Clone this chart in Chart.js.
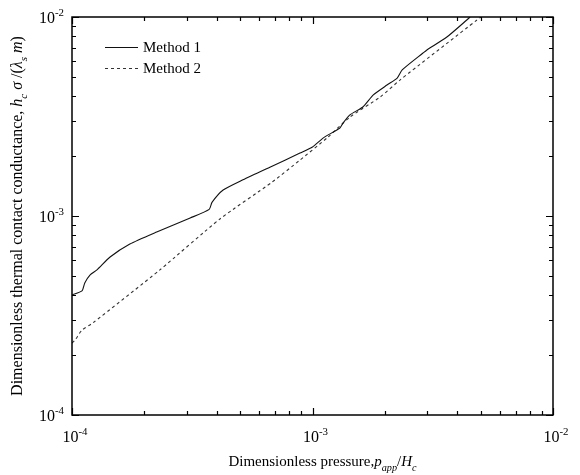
<!DOCTYPE html>
<html>
<head>
<meta charset="utf-8">
<script src="https://cdn.jsdelivr.net/npm/chart.js@4.4.1/dist/chart.umd.min.js"></script>
<style>
  html, body { margin: 0; padding: 0; background: #fff; }
  #wrap { width: 580px; height: 475px; }
</style>
</head>
<body>
<div id="wrap"><canvas id="chart" width="580" height="475"></canvas></div>
<script>
// Values (log-log)
const seriesLabels = ['Method 1', 'Method 2'];

const method1P = [1.00e-4, 1.10e-4, 1.13e-4, 1.19e-4, 1.27e-4, 1.44e-4, 1.74e-4, 2.25e-4, 3.10e-4, 3.72e-4,
  3.82e-4, 4.25e-4, 5.14e-4, 6.65e-4, 8.87e-4, 1.00e-3, 1.11e-3, 1.30e-3, 1.34e-3, 1.43e-3,
  1.62e-3, 1.79e-3, 2.04e-3, 2.25e-3, 2.36e-3, 2.88e-3, 2.99e-3, 3.62e-3, 4.38e-3, 4.52e-3];
const method1H = [4.01e-4, 4.20e-4, 4.61e-4, 5.06e-4, 5.36e-4, 6.22e-4, 7.23e-4, 8.31e-4, 9.77e-4, 1.08e-3,
  1.17e-3, 1.35e-3, 1.52e-3, 1.76e-3, 2.07e-3, 2.22e-3, 2.47e-3, 2.77e-3, 2.93e-3, 3.22e-3,
  3.53e-3, 4.06e-3, 4.55e-3, 4.93e-3, 5.42e-3, 6.59e-3, 6.83e-3, 7.93e-3, 9.66e-3, 1.00e-2];

const method2P = [1.00e-4, 1.03e-4, 1.10e-4, 1.22e-4, 2.32e-4, 4.12e-4, 6.79e-4, 8.87e-4, 1.15e-3, 1.43e-3,
  1.91e-3, 2.31e-3, 4.83e-3, 5.02e-3];
const method2H = [2.30e-4, 2.38e-4, 2.67e-4, 2.90e-4, 5.36e-4, 9.66e-4, 1.48e-3, 1.91e-3, 2.47e-3, 3.14e-3,
  3.96e-3, 4.82e-3, 9.66e-3, 1.00e-2];

const xDecades = [-4, -3, -2];
const yDecades = [-4, -3, -2];

const SERIF = '"Liberation Serif", "DejaVu Serif", serif';

// draw a run of text pieces: {t, it (italic), sub, sup}
function drawRich(ctx, parts, x, y, align, size) {
  const pieces = parts.map(p => {
    const sz = (p.sub || p.sup) ? size * 0.68 : size;
    const font = (p.it ? 'italic ' : '') + sz + 'px ' + SERIF;
    ctx.font = font;
    return { t: p.t, font, w: ctx.measureText(p.t).width, dy: p.sub ? size * 0.3 : p.sup ? -size * 0.42 : 0 };
  });
  const total = pieces.reduce((s, p) => s + p.w, 0);
  let cx = align === 'center' ? x - total / 2 : align === 'right' ? x - total : x;
  ctx.textAlign = 'left';
  ctx.textBaseline = 'alphabetic';
  pieces.forEach(p => {
    ctx.font = p.font;
    ctx.fillText(p.t, cx, y + p.dy);
    cx += p.w;
  });
}

const framePlugin = {
  id: 'frame',
  afterDraw(chart) {
    const { ctx, chartArea: a, scales } = chart;
    const xs = scales.x, ys = scales.y;
    ctx.save();
    ctx.fillStyle = '#000';
    ctx.strokeStyle = '#000';

    // box
    ctx.lineWidth = 1.5;
    ctx.strokeRect(a.left, a.top, a.right - a.left, a.bottom - a.top);

    // inward ticks on all sides
    ctx.lineWidth = 1.2;
    ctx.beginPath();
    for (let d = -4; d <= -2; d++) {
      for (let m = 1; m <= 9; m++) {
        if (d === -2 && m > 1) break;
        const v = m * Math.pow(10, d);
        const len = m === 1 ? 7 : 4;
        const px = Math.round(xs.getPixelForValue(v)) + 0.5;
        const py = Math.round(ys.getPixelForValue(v)) + 0.5;
        ctx.moveTo(px, a.bottom); ctx.lineTo(px, a.bottom - len);
        ctx.moveTo(px, a.top); ctx.lineTo(px, a.top + len);
        ctx.moveTo(a.left, py); ctx.lineTo(a.left + len, py);
        ctx.moveTo(a.right, py); ctx.lineTo(a.right - len, py);
      }
    }
    ctx.stroke();

    // tick labels
    xDecades.forEach(d => {
      const px = xs.getPixelForValue(Math.pow(10, d));
      drawRich(ctx, [{ t: '10' }, { t: '-' + Math.abs(d), sup: true }], px + 3, a.bottom + 27, 'center', 16);
    });
    yDecades.forEach(d => {
      const py = ys.getPixelForValue(Math.pow(10, d));
      drawRich(ctx, [{ t: '10' }, { t: '-' + Math.abs(d), sup: true }], a.left - 8, py + 6, 'right', 16);
    });

    // axis titles
    drawRich(ctx, [
      { t: 'Dimensionless pressure,' }, { t: 'p', it: true }, { t: 'app', sub: true, it: true },
      { t: '/' }, { t: 'H', it: true }, { t: 'c', sub: true, it: true }
    ], (a.left + a.right) / 2 + 10, 466, 'center', 15);

    ctx.save();
    ctx.translate(22, (a.top + a.bottom) / 2);
    ctx.rotate(-Math.PI / 2);
    drawRich(ctx, [
      { t: 'Dimensionless thermal contact conductance, ' }, { t: 'h', it: true }, { t: 'c', sub: true, it: true },
      { t: ' σ', it: true }, { t: ' /(' }, { t: 'λ', it: true }, { t: 's', sub: true, it: true },
      { t: ' m', it: true }, { t: ')' }
    ], 0, 0, 'center', 16);
    ctx.restore();

    // legend
    chart.data.datasets.forEach((ds, i) => {
      const ly = a.top + 30 + i * 21;
      ctx.lineWidth = 1;
      ctx.strokeStyle = ds.borderColor;
      ctx.setLineDash(ds.borderDash || []);
      ctx.beginPath();
      ctx.moveTo(a.left + 33, ly + 0.5);
      ctx.lineTo(a.left + 66, ly + 0.5);
      ctx.stroke();
      ctx.setLineDash([]);
      ctx.fillStyle = '#000';
      drawRich(ctx, [{ t: ds.label }], a.left + 71, ly + 5, 'left', 15);
    });
    ctx.restore();
  }
};

const logAxis = (min, max) => ({
  type: 'logarithmic',
  min, max,
  grid: { display: false },
  border: { display: false },
  ticks: { display: false },
});

new Chart(document.getElementById('chart'), {
  type: 'line',
  data: {
    datasets: [
      {
        label: seriesLabels[0],
        data: method1P.map((p, i) => ({ x: p, y: method1H[i] })),
        borderColor: '#111',
        borderWidth: 1.1,
        pointRadius: 0,
        tension: 0.2,
        fill: false,
      },
      {
        label: seriesLabels[1],
        data: method2P.map((p, i) => ({ x: p, y: method2H[i] })),
        borderColor: '#333',
        borderWidth: 1.1,
        borderDash: [3, 3],
        pointRadius: 0,
        tension: 0.2,
        fill: false,
      },
    ],
  },
  options: {
    responsive: false,
    animation: false,
    layout: { padding: { left: 64, top: 17, right: 27, bottom: 52 } },
    plugins: { legend: { display: false }, tooltip: { enabled: false } },
    scales: {
      x: logAxis(1e-4, 1e-2),
      y: logAxis(1e-4, 1e-2),
    },
  },
  plugins: [framePlugin],
});
</script>
</body>
</html>
